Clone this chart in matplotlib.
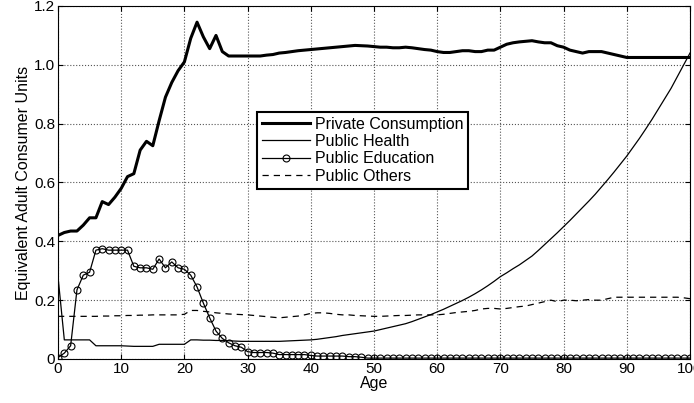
import matplotlib
matplotlib.use("Agg")
import matplotlib.pyplot as plt
import numpy as np

ages = list(range(101))
private = [0.42,0.43,0.435,0.435,0.455,0.48,0.48,0.535,0.525,0.55,0.58,0.62,0.63,0.71,0.74,0.725,0.81,0.89,0.94,0.98,
           1.01,1.09,1.145,1.095,1.055,1.10,1.045,1.03,1.03,1.03,1.03,1.03,1.03,1.033,1.035,1.04,1.042,1.045,1.048,1.05,
           1.052,1.054,1.056,1.058,1.06,1.062,1.064,1.066,1.065,1.064,1.062,1.06,1.06,1.058,1.058,1.06,1.058,1.055,1.052,1.05,
           1.045,1.042,1.042,1.045,1.048,1.048,1.045,1.045,1.05,1.05,1.06,1.07,1.075,1.078,1.08,1.082,1.078,1.075,1.075,1.065,
           1.06,1.05,1.045,1.04,1.045,1.045,1.045,1.04,1.035,1.03,1.025,1.025,1.025,1.025,1.025,1.025,1.025,1.025,1.025,1.025,1.025]
health = [0.28,0.065,0.065,0.065,0.065,0.065,0.045,0.045,0.045,0.045,0.045,0.044,0.043,0.043,0.043,0.043,0.05,0.05,0.05,0.05,
          0.05,0.065,0.065,0.064,0.064,0.063,0.063,0.062,0.061,0.06,0.06,0.06,0.06,0.06,0.06,0.06,0.061,0.062,0.063,0.064,
          0.065,0.067,0.07,0.073,0.076,0.08,0.083,0.086,0.089,0.092,0.095,0.1,0.105,0.11,0.115,0.12,0.127,0.135,0.143,0.151,
          0.16,0.169,0.179,0.189,0.199,0.21,0.222,0.235,0.249,0.264,0.28,0.293,0.307,0.32,0.335,0.35,0.369,0.389,0.409,0.429,
          0.45,0.471,0.493,0.515,0.537,0.56,0.585,0.61,0.636,0.663,0.69,0.72,0.75,0.782,0.815,0.85,0.885,0.92,0.96,1.0,1.04]
education = [0.005,0.02,0.045,0.235,0.285,0.295,0.37,0.375,0.37,0.37,0.37,0.37,0.315,0.31,0.31,0.305,0.34,0.31,0.33,0.31,
             0.305,0.285,0.245,0.19,0.14,0.095,0.07,0.055,0.045,0.04,0.025,0.022,0.022,0.022,0.02,0.015,0.015,0.015,0.015,0.015,
             0.012,0.01,0.01,0.01,0.01,0.01,0.008,0.008,0.006] + [0.003]*52
others = [0.145,0.145,0.145,0.145,0.145,0.145,0.145,0.146,0.146,0.147,0.147,0.148,0.148,0.149,0.149,0.15,0.15,0.15,0.15,0.15,
          0.152,0.165,0.165,0.162,0.16,0.157,0.155,0.153,0.152,0.151,0.15,0.148,0.146,0.144,0.142,0.14,0.142,0.144,0.146,0.15,
          0.155,0.157,0.157,0.155,0.152,0.15,0.15,0.148,0.147,0.146,0.145,0.145,0.146,0.147,0.148,0.148,0.149,0.15,0.15,0.15,
          0.15,0.152,0.155,0.158,0.16,0.162,0.165,0.17,0.172,0.172,0.17,0.172,0.175,0.178,0.18,0.185,0.19,0.195,0.2,0.195,
          0.2,0.2,0.198,0.2,0.202,0.2,0.2,0.205,0.21,0.21,0.21,0.21,0.21,0.21,0.21,0.21,0.21,0.21,0.21,0.208,0.205]

plt.rcParams['font.family'] = ['Liberation Sans', 'DejaVu Sans']
fig = plt.figure(figsize=(6.94, 4.03), dpi=100)
ax = fig.add_axes([58/694, 44/403, 632/694, 353/403])
ax.plot(ages, private, color='black', lw=2.2, label='Private Consumption')
ax.plot(ages, health, color='black', lw=0.9, label='Public Health')
ax.plot(ages, education, color='black', lw=0.9, marker='o', ms=5, mfc='none', mew=0.8, label='Public Education')
ax.plot(ages, others, color='black', lw=0.9, ls=(0, (5, 4)), label='Public Others')
ax.set_xlim(0, 100)
ax.set_ylim(0, 1.2)
ax.set_xticks(range(0, 101, 10))
ax.set_yticks([0, 0.2, 0.4, 0.6, 0.8, 1.0, 1.2])
ax.set_yticklabels(['0', '0.2', '0.4', '0.6', '0.8', '1.0', '1.2'])
ax.grid(True, ls=':', color='#555555', lw=0.8)
ax.tick_params(direction='in', labelsize=11, top=True, right=True, pad=2)
ax.set_xlabel('Age', fontsize=11.5, labelpad=0)
ax.set_ylabel('Equivalent Adult Consumer Units', fontsize=11.5, labelpad=2)
leg = ax.legend(loc='upper left', bbox_to_anchor=(0.315, 0.70), fontsize=11.5, fancybox=False,
                edgecolor='black', framealpha=1, handlelength=3, borderpad=0.3, labelspacing=0.15,
                handletextpad=0.3, borderaxespad=0)
leg.get_frame().set_linewidth(1.5)
fig.savefig('out.png', dpi=100)
